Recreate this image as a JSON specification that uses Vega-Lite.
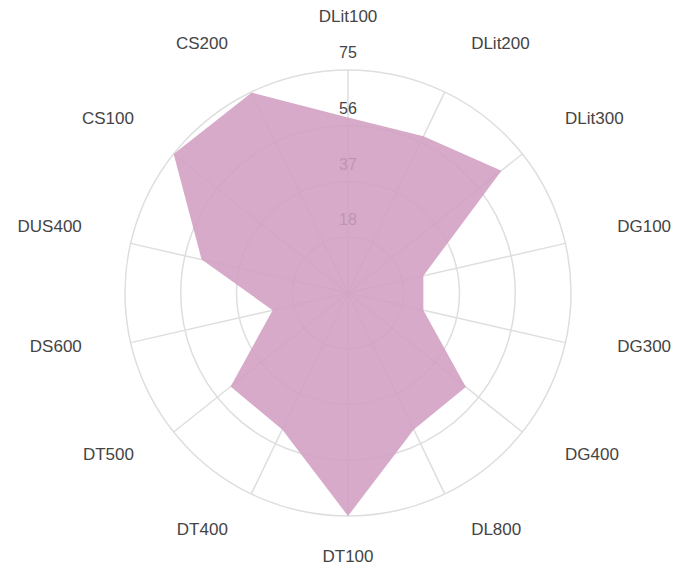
{
  "$schema": "https://vega.github.io/schema/vega-lite/v6.json",
  "width": 674,
  "height": 567,
  "autosize": "none",
  "padding": 0,
  "background": "white",
  "config": {"view": {"stroke": null}},
  "datasets": {
    "radar": [
      {"axis": "DLit100", "i": 0, "value": 59},
      {"axis": "DLit200", "i": 1, "value": 58.5},
      {"axis": "DLit300", "i": 2, "value": 66},
      {"axis": "DG100", "i": 3, "value": 26},
      {"axis": "DG300", "i": 4, "value": 26},
      {"axis": "DG400", "i": 5, "value": 50.7},
      {"axis": "DL800", "i": 6, "value": 51},
      {"axis": "DT100", "i": 7, "value": 75},
      {"axis": "DT400", "i": 8, "value": 51},
      {"axis": "DT500", "i": 9, "value": 50.5},
      {"axis": "DS600", "i": 10, "value": 26},
      {"axis": "DUS400", "i": 11, "value": 50.5},
      {"axis": "CS100", "i": 12, "value": 75},
      {"axis": "CS200", "i": 13, "value": 74.8}
    ],
    "rings": [
      {"r": 18.75, "label": "18"},
      {"r": 37.5, "label": "37"},
      {"r": 56.25, "label": "56"},
      {"r": 75, "label": "75"}
    ]
  },
  "layer": [
    {
      "data": {"name": "rings"},
      "transform": [{"calculate": "0", "as": "c0"}],
      "mark": {"type": "point", "shape": "circle", "filled": false, "stroke": "#dedede", "strokeWidth": 1.5, "opacity": 1},
      "encoding": {
        "x": {"field": "c0", "type": "quantitative", "scale": {"domain": [-117.05, 109.65], "nice": false, "zero": false}, "axis": null},
        "y": {"field": "c0", "type": "quantitative", "scale": {"domain": [-92.16, 98.55], "nice": false, "zero": false}, "axis": null},
        "size": {"field": "r", "type": "quantitative", "scale": {"type": "pow", "exponent": 2, "domain": [0, 75], "range": [0, 198916]}, "legend": null}
      }
    },
    {
      "data": {"name": "radar"},
      "transform": [
        {"calculate": "0", "as": "c0"},
        {"calculate": "datum.i * 2 * PI / 14", "as": "a"},
        {"calculate": "75 * sin(datum.a)", "as": "sx"},
        {"calculate": "75 * cos(datum.a)", "as": "sy"}
      ],
      "mark": {"type": "rule", "stroke": "#dedede", "strokeWidth": 1.5},
      "encoding": {
        "x": {"field": "c0", "type": "quantitative"},
        "y": {"field": "c0", "type": "quantitative"},
        "x2": {"field": "sx"},
        "y2": {"field": "sy"}
      }
    },
    {
      "data": {"name": "rings"},
      "transform": [{"calculate": "0", "as": "c0"}],
      "mark": {"type": "text", "font": "Liberation Sans", "fontSize": 16, "fill": "#444444", "align": "center", "baseline": "middle", "dy": -17},
      "encoding": {
        "x": {"field": "c0", "type": "quantitative"},
        "y": {"field": "r", "type": "quantitative"},
        "text": {"field": "label"}
      }
    },
    {
      "data": {"name": "radar"},
      "transform": [
        {"calculate": "datum.i * 2 * PI / 14", "as": "a"},
        {"calculate": "datum.value * sin(datum.a)", "as": "px"},
        {"calculate": "datum.value * cos(datum.a)", "as": "py"}
      ],
      "mark": {"type": "line", "interpolate": "linear-closed", "fill": "#d09ec0", "fillOpacity": 0.88, "stroke": "#d09ec0", "strokeOpacity": 0, "strokeWidth": 0},
      "encoding": {
        "x": {"field": "px", "type": "quantitative"},
        "y": {"field": "py", "type": "quantitative"},
        "order": {"field": "i", "type": "quantitative"}
      }
    },
    {
      "data": {"name": "radar"},
      "transform": [
        {"filter": "datum.i == 0 || datum.i == 7"},
        {"calculate": "datum.i * 2 * PI / 14", "as": "a"},
        {"calculate": "90.8 * sin(datum.a)", "as": "lx"},
        {"calculate": "90.8 * cos(datum.a)", "as": "ly"}
      ],
      "mark": {"type": "text", "font": "Liberation Sans", "fontSize": 17, "fill": "#444444", "align": "center", "baseline": "middle", "dy": -6},
      "encoding": {
        "x": {"field": "lx", "type": "quantitative"},
        "y": {"field": "ly", "type": "quantitative"},
        "text": {"field": "axis"}
      }
    },
    {
      "data": {"name": "radar"},
      "transform": [
        {"filter": "datum.i >= 1 && datum.i <= 6"},
        {"calculate": "datum.i * 2 * PI / 14", "as": "a"},
        {"calculate": "90.8 * sin(datum.a)", "as": "lx"},
        {"calculate": "90.8 * cos(datum.a)", "as": "ly"}
      ],
      "mark": {"type": "text", "font": "Liberation Sans", "fontSize": 17, "fill": "#444444", "align": "left", "baseline": "middle", "dx": 6, "dy": -6},
      "encoding": {
        "x": {"field": "lx", "type": "quantitative"},
        "y": {"field": "ly", "type": "quantitative"},
        "text": {"field": "axis"}
      }
    },
    {
      "data": {"name": "radar"},
      "transform": [
        {"filter": "datum.i >= 8"},
        {"calculate": "datum.i * 2 * PI / 14", "as": "a"},
        {"calculate": "90.8 * sin(datum.a)", "as": "lx"},
        {"calculate": "90.8 * cos(datum.a)", "as": "ly"}
      ],
      "mark": {"type": "text", "font": "Liberation Sans", "fontSize": 17, "fill": "#444444", "align": "right", "baseline": "middle", "dx": -3, "dy": -6},
      "encoding": {
        "x": {"field": "lx", "type": "quantitative"},
        "y": {"field": "ly", "type": "quantitative"},
        "text": {"field": "axis"}
      }
    }
  ]
}
